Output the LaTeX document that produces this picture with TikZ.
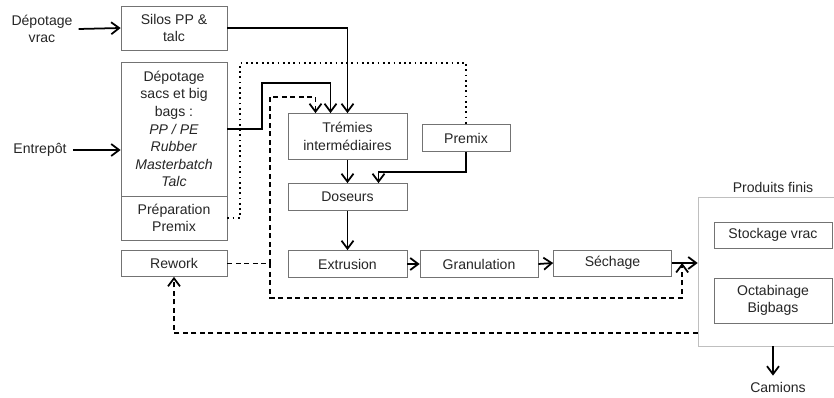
\documentclass[tikz,border=0pt]{standalone}
\usepackage{fontspec}
\setmainfont{Liberation Sans}
\usetikzlibrary{arrows.meta, calc, positioning}

\begin{document}
\begin{tikzpicture}[x=0.02cm, y=-0.02cm, align=center,
  font=\fontsize{8}{10}\selectfont, >={Straight Barb[length=1.6mm,width=2.4mm]}]
\tikzstyle{box}=[draw=black!55, fill=white, text=black!85, inner sep=1pt, minimum width=2.12cm]
\tikzstyle{flow}=[line width=1pt]
\tikzstyle{back}=[line width=1pt, dash pattern=on 1mm off 0.7mm]
\tikzstyle{label}=[text=black!85]

\useasboundingbox (0,0) rectangle (834,398);

% produits finis
\node[draw=black!25, minimum width=2.8cm, minimum height=2.98cm] (finis) at (768,271.5) {};
\node[label] (finis_lbl) at (773,187) {Produits finis};
\node[box, minimum width=2.36cm, minimum height=0.52cm] (stockage) at (773,235) {Stockage vrac};
\node[box, minimum width=2.36cm, minimum height=0.9cm] (octa) at (773,300.5) {Octabinage\\Bigbags};
\node[label] (camions) at (778,387) {Camions};

% entrees
\node[label] (vrac) at (42,29) {Dépotage\\vrac};
\node[label] (entrepot) at (40,150) {Entrepôt};
\node[box, minimum height=0.88cm] (silos) at (174,28) {Silos PP \&\\talc};
\node[box, minimum height=2.68cm] (depot) at (174,129) {Dépotage\\sacs et big\\bags :\\\textit{PP / PE}\\\textit{Rubber}\\\textit{Masterbatch}\\\textit{Talc}};
\node[box, minimum height=0.88cm] (prep) at (174,218) {Préparation\\Premix};
\node[box, minimum height=0.52cm] (rework) at (174,263.5) {Rework};

% ligne
\node[box, minimum width=2.38cm, minimum height=0.92cm] (tremies) at (347.5,136.5) {Trémies\\intermédiaires};
\node[box, minimum width=1.76cm, minimum height=0.54cm] (premix) at (466,138) {Premix};
\node[box, minimum width=2.38cm, minimum height=0.54cm] (doseurs) at (347.5,197) {Doseurs};
\node[box, minimum width=2.38cm, minimum height=0.54cm] (extrusion) at (347.5,264) {Extrusion};
\node[box, minimum width=2.36cm, minimum height=0.54cm] (granul) at (479,264) {Granulation};
\node[box, minimum width=2.36cm, minimum height=0.52cm] (sechage) at (612.5,263) {Séchage};

\coordinate (merge) at ($(sechage.east)!0.4!(sechage.east -| finis.west)$);
\coordinate (split) at ($(rework.east)+(43,0)$);

\draw[flow,->] (vrac.east) -- (silos.west);
\draw[flow,->] (entrepot.east) -- (entrepot.east -| depot.west);
\draw[flow,->] (silos.east) -| (tremies.north);
\draw[flow,->] (depot.east) -- ++(35,0) |- ([xshift=-0.34cm,yshift=0.6cm]tremies.north) -- ([xshift=-0.34cm]tremies.north);
\draw[line width=1pt, dotted] (prep.east) -- ++(13,0) |- ([yshift=1.23cm]premix.north) -- (premix.north);
\draw[flow,->] (premix.south) -- ++(0,20) -| ([xshift=0.62cm]doseurs.north);
\draw[flow,->] (tremies.south) -- (doseurs.north);
\draw[flow,->] (doseurs.south) -- (extrusion.north);
\draw[flow,->] (extrusion.east) -- (granul.west);
\draw[flow,->] (granul.east) -- (sechage.west);
\draw[flow,->] (sechage.east) -- (sechage.east -| finis.west);

\draw[back] (rework.east) -- (split);
\draw[back,->] (split) |- ([xshift=-0.64cm,yshift=0.33cm]tremies.north) -- ([xshift=-0.64cm]tremies.north);
\draw[back,->] (split) |- ([yshift=-0.7cm]merge) -- (merge);
\draw[back,->] ([yshift=-1.23cm]finis.west) -| (rework.south);
\draw[flow,->] (finis.south -| octa.south) -- (camions.north -| octa.south);
\end{tikzpicture}
\end{document}
